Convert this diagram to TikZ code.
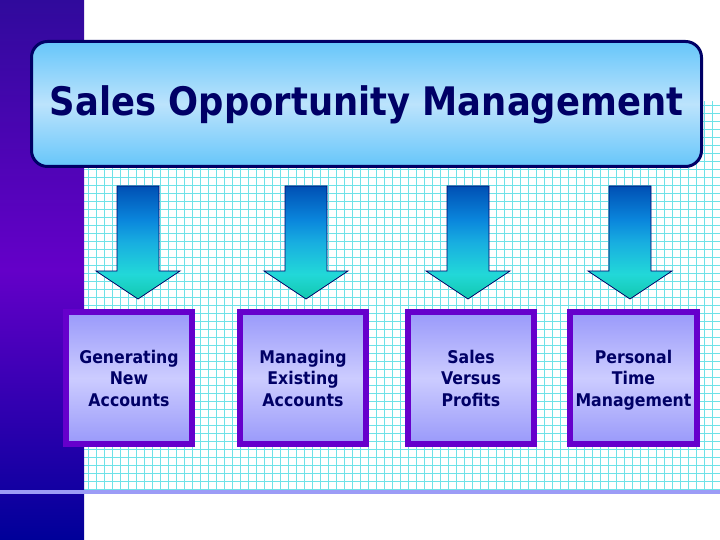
\documentclass[tikz,border=0pt]{standalone}
\usepackage{fontspec}
\setmainfont{DejaVu Sans}[FakeStretch=0.9]
\definecolor{navy}{HTML}{000066}
\definecolor{gridcyan}{HTML}{6EE2E8}
\definecolor{barpurple}{HTML}{6400C8}
\definecolor{bartop}{HTML}{300A9C}
\definecolor{barbot}{HTML}{000099}
\definecolor{boxborder}{HTML}{6600CC}
\definecolor{boxlight}{HTML}{CCCCFF}
\definecolor{boxdark}{HTML}{9999FA}
\definecolor{titlelight}{HTML}{BCE3FC}
\definecolor{titledark}{HTML}{66C6FA}
\definecolor{rulecol}{HTML}{9C9CF6}
\definecolor{arrtip}{HTML}{12C8AE}
\definecolor{arrhead}{HTML}{22D8D8}
\definecolor{arrmid}{HTML}{18AEE0}
\definecolor{arrupper}{HTML}{0A86DC}
\definecolor{arrtop}{HTML}{0050B4}
\pgfdeclareverticalshading{arrowshade}{100bp}{%
  color(0bp)=(arrtip);
  color(25bp)=(arrtip);
  color(36bp)=(arrhead);
  color(50bp)=(arrmid);
  color(60bp)=(arrupper);
  color(75bp)=(arrtop);
  color(100bp)=(arrtop)}
\tikzset{
  gridline/.style={draw=gridcyan, line width=1.5pt},
  titlebox/.style={draw=navy, line width=3pt, rounded corners=16pt,
    top color=titledark, bottom color=titledark, middle color=titlelight},
  titletext/.style={text=navy, font=\bfseries\fontsize{39.3}{44}\selectfont},
  downarrow/.style={draw=navy, line width=0.8pt, shading=arrowshade},
  itembox/.style={draw=boxborder, line width=6pt,
    top color=boxdark, bottom color=boxdark, middle color=boxlight},
  itemtext/.style={text=navy, align=center, text depth=0pt,
    font=\bfseries\fontsize{17.5}{21.5}\selectfont}
}
\begin{document}
\begin{tikzpicture}[x=1pt,y=1pt]
\useasboundingbox (0,0) rectangle (720,540);
\fill[white] (0,0) rectangle (720,540);
% grid
\foreach \i in {0,...,79} \draw[gridline] ({88.5+\i*8},50) -- ({88.5+\i*8},439);
\foreach \j in {0,...,48} \draw[gridline] (84,{50.5+\j*8}) -- (720,{50.5+\j*8});
% left bar
\shade[top color=bartop, bottom color=barbot, middle color=barpurple] (0,0) rectangle (84,540);
% bottom rule
\fill[rulecol] (0,46) rectangle (720,50);
% title
\path[titlebox] (31.5,373.5) rectangle (701.5,498.5);
\node[titletext] (title) at (366.5,435) {Sales Opportunity Management};
% arrows
\foreach \cx/\nm in {138/a1,306/a2,468/a3,630/a4}{
  \coordinate (\nm) at (\cx,354);
  \path[downarrow] (\cx-21,354) -- (\cx+21,354) -- (\cx+21,269) -- (\cx+42,269)
    -- (\cx,241) -- (\cx-42,269) -- (\cx-21,269) -- cycle;
}
% boxes
\path[itembox] (66,96) rectangle (192,228);
\path[itembox] (240,96) rectangle (366,228);
\path[itembox] (408,96) rectangle (534,228);
\path[itembox] (570,96) rectangle (697,228);
\node[itemtext] (b1) at (129,162) {Generating\\New\\Accounts};
\node[itemtext] (b2) at (303,162) {Managing\\Existing\\Accounts};
\node[itemtext] (b3) at (471,162) {Sales\\Versus\\Profits};
\node[itemtext] (b4) at (633.5,162) {Personal\\Time\\Management};
\end{tikzpicture}
\end{document}
